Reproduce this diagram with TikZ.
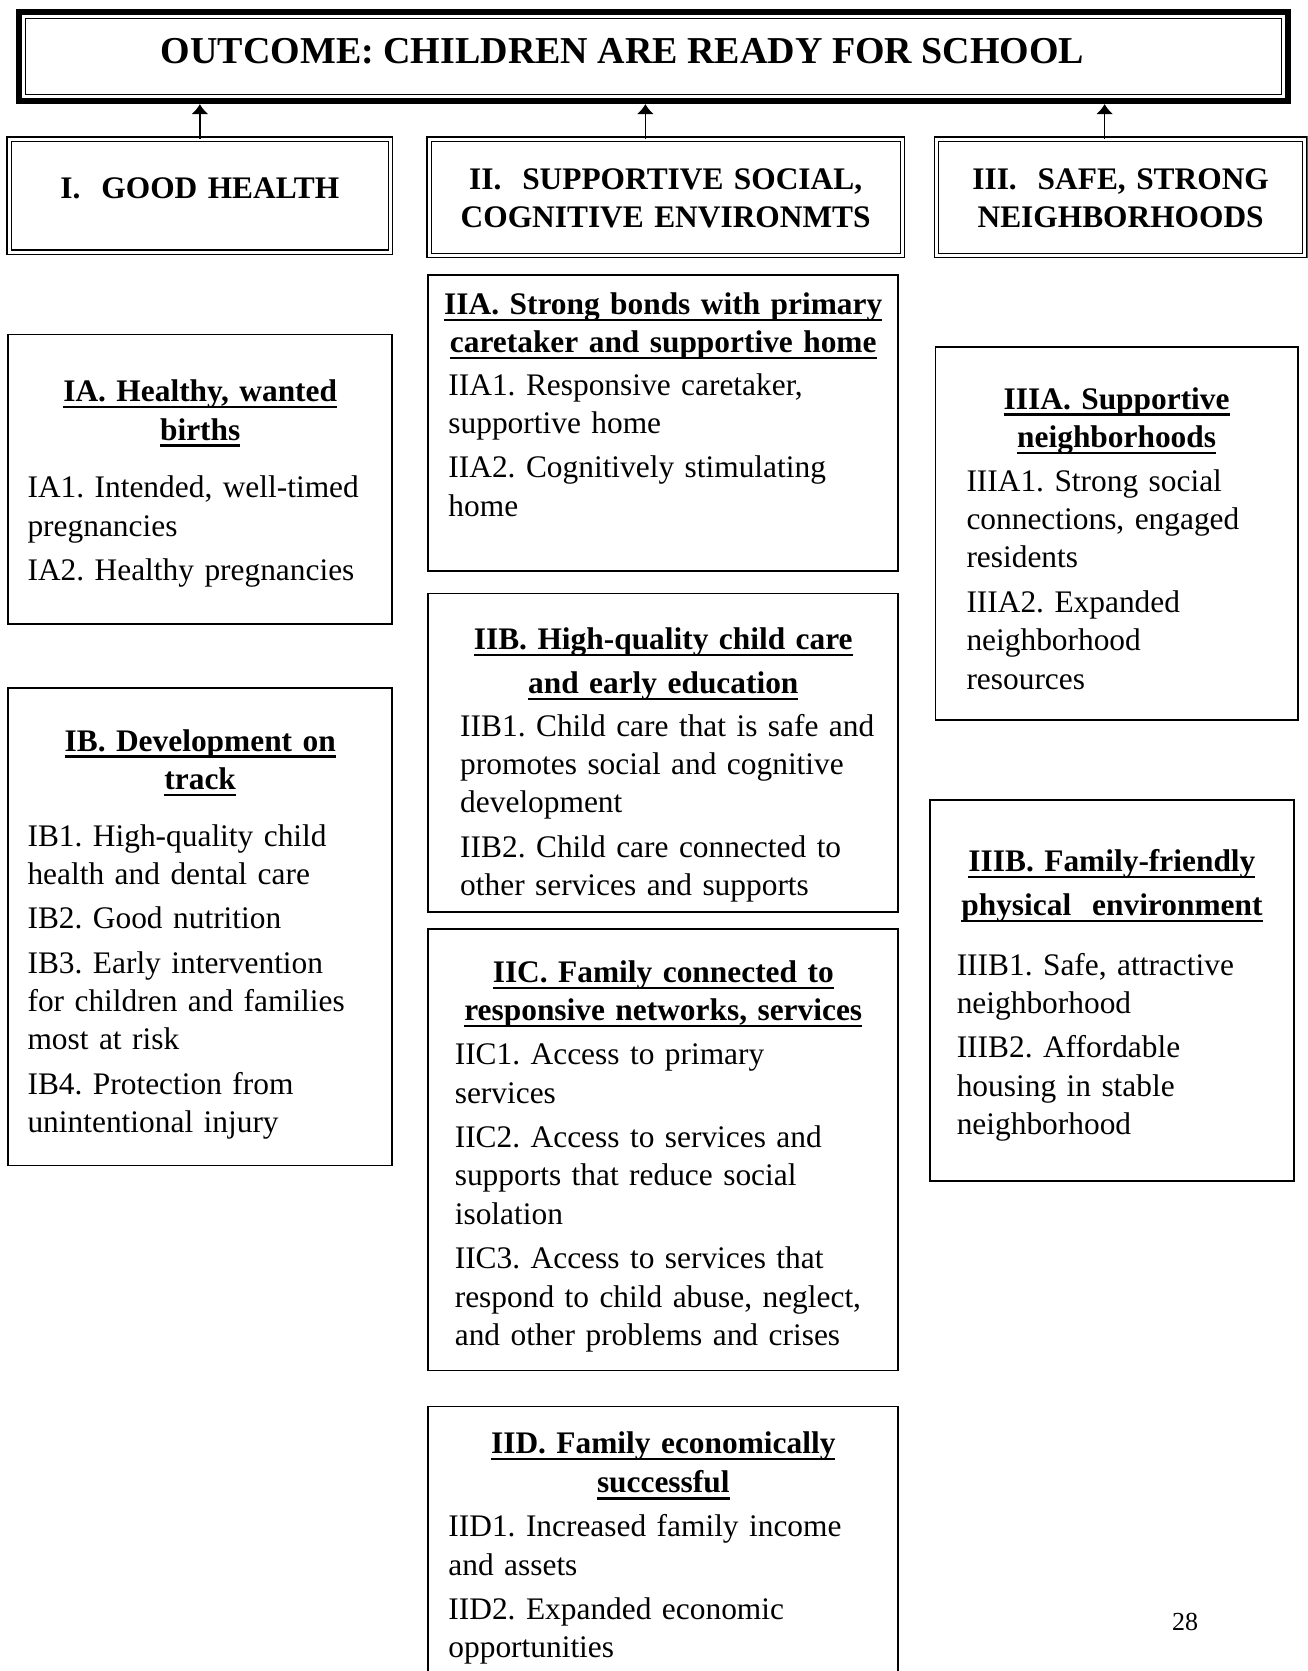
\documentclass[tikz,border=0pt]{standalone}
\usepackage{fontspec}
\setmainfont{Liberation Serif}
\usetikzlibrary{arrows.meta,calc}

% thick underline
\newsavebox{\ulbox}
\newcommand{\uln}[1]{\leavevmode\sbox{\ulbox}{#1}\rlap{\rule[-3.3pt]{\wd\ulbox}{1.1pt}}\usebox{\ulbox}}
% bold underlined two-line heading of a box: #1 gap between its lines, #2 gap below it
\newcommand{\hd}[4]{{\centering\bfseries\uln{#3}\\[#1]\uln{#4}\par}\vspace{#2}}

\begin{document}
\begin{tikzpicture}[x=0.533pt,y=-0.533pt,>={Latex[length=5pt,width=8.5pt]}]
    \tikzstyle{goal}=[draw, line width=0.9pt, anchor=north west, inner sep=0pt, align=left, font=\fontsize{15.7}{19.2}\selectfont\frenchspacing]
    \tikzstyle{pillar}=[draw, double, double distance=1.5pt, line width=0.6pt, anchor=north west, inner sep=0pt, align=center, font=\fontsize{15.7}{19.2}\selectfont\bfseries]

    \clip (0,0) rectangle (1227,1568);

    \node[draw, line width=3pt, anchor=north west, inner sep=0pt, minimum width=634.8pt, text height=26.1pt, text depth=18.7pt, font=\fontsize{19}{22}\selectfont\bfseries] (outcome) at (15,8) {OUTCOME: CHILDREN ARE READY FOR SCHOOL\hspace*{31pt}};
    \draw[line width=0.6pt] ($(outcome.north west)+(9,9)$) rectangle ($(outcome.south east)+(-9,-9)$);

    \node[pillar, text width=190.8pt, text height=29.8pt, text depth=26.7pt] (hI) at (8,130) {I.\ \ GOOD HEALTH};
    \node[pillar, text width=236.7pt, text height=25.1pt, text depth=33pt] (hII) at (402,130) {II.\ \ SUPPORTIVE SOCIAL,\\COGNITIVE ENVIRONMTS};
    \node[pillar, text width=184.4pt, text height=25.1pt, text depth=33pt] (hIII) at (878,130) {III.\ \ SAFE, STRONG\\NEIGHBORHOODS};

    \coordinate (aI) at (hI.north);
    \coordinate (aII) at ($(hII.north)+(-19,0)$);
    \coordinate (aIII) at ($(hIII.north)+(-15,0)$);
    \foreach \a in {aI,aII,aIII}
        \draw[->, line width=0.8pt] (\a) -- (\a |- outcome.south);

    \node[goal, text width=191.9pt, text height=33.6pt, text depth=111.4pt] (IA) at (7,313) {\hd{0pt}{9.6pt}{IA. Healthy, wanted}{births}
        {\setlength{\leftskip}{9.6pt}IA1. Intended, well-timed\\pregnancies\\[3pt]IA2. Healthy pregnancies\par}};
    \node[goal, text width=191.9pt, text height=31.4pt, text depth=207.3pt] (IB) at (7,645) {\hd{0pt}{9.1pt}{IB. Development on}{track}
        {\setlength{\leftskip}{9.6pt}IB1. High-quality child\\health and dental care\\[3pt]IB2. Good nutrition\\[3pt]IB3. Early intervention\\for children and families\\most at risk\\[3pt]IB4. Protection from\\unintentional injury\par}};

    \node[goal, text width=235.1pt, text height=19.7pt, text depth=128.5pt] (IIA) at (401,257) {\hd{0pt}{2.1pt}{IIA. Strong bonds with primary}{caretaker and supportive home}
        {\setlength{\leftskip}{10.1pt}IIA1. Responsive caretaker,\\supportive home\\[3pt]IIA2. Cognitively stimulating\\home\par}};
    \node[goal, text width=235.1pt, text height=28.2pt, text depth=131.1pt] (IIB) at (401,556) {\hd{2.7pt}{2.1pt}{IIB. High-quality child care}{and early education}
        {\setlength{\leftskip}{16pt}IIB1. Child care that is safe and\\promotes social and cognitive\\development\\[3pt]IIB2. Child care connected to\\other services and supports\par}};
    \node[goal, text width=235.1pt, text height=26.7pt, text depth=194pt] (IIC) at (401,871) {\hd{0pt}{2.7pt}{IIC. Family connected to}{responsive networks, services}
        {\setlength{\leftskip}{13.3pt}IIC1. Access to primary\\services\\[3pt]IIC2. Access to services and\\supports that reduce social\\isolation\\[3pt]IIC3. Access to services that\\respond to child abuse, neglect,\\and other problems and crises\par}};
    \node[goal, text width=235.1pt, text height=23.5pt, text depth=113pt] (IID) at (401,1319) {\hd{0.5pt}{2.7pt}{IID. Family economically}{successful}
        {\setlength{\leftskip}{10.1pt}IID1. Increased family income\\and assets\\[3pt]IID2. Expanded economic\\opportunities\par}};

    \node[goal, text width=181.2pt, text height=30.9pt, text depth=155.6pt] (IIIA) at (877,325) {\hd{0pt}{2.7pt}{IIIA. Supportive}{neighborhoods}
        {\setlength{\leftskip}{15.5pt}IIIA1. Strong social\\connections, engaged\\residents\\[3pt]IIIA2. Expanded\\neighborhood\\resources\par}};
    \node[goal, text width=181.8pt, text height=35.7pt, text depth=154.6pt] (IIIB) at (872,750) {\hd{2.7pt}{10.7pt}{IIIB. Family-friendly}{physical\ \ environment}
        {\setlength{\leftskip}{13.3pt}IIIB1. Safe, attractive\\neighborhood\\[3pt]IIIB2. Affordable\\housing in stable\\neighborhood\par}};

    \node[font=\fontsize{13}{15}\selectfont] (page) at (1112,1522) {28};
\end{tikzpicture}
\end{document}
